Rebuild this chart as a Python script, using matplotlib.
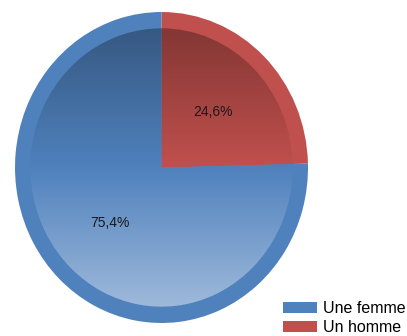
import numpy as np
import matplotlib
matplotlib.use("Agg")
import matplotlib.pyplot as plt
from matplotlib.colors import LinearSegmentedColormap, to_rgb
from matplotlib.patches import Patch

plt.rcParams['font.family'] = ['Liberation Sans', 'DejaVu Sans']

# data
labels = ["Une femme", "Un homme"]
values = [75.4, 24.6]
colors = ["#4F81BD", "#C0504D"]

fig = plt.figure(figsize=(4.07, 3.36), dpi=100)
ax = fig.add_axes([15 / 407, 13 / 336, 293 / 407, 311 / 336])

# outer rim (plain colour), clockwise from 12 o'clock, homme first
order = [1, 0]
vals = [values[i] for i in order]
cols = [colors[i] for i in order]
ax.pie(vals, colors=cols, startangle=90, counterclock=False, radius=1.0,
       wedgeprops=dict(linewidth=0))

# inner disk with a vertical gradient per slice
inner, _ = ax.pie(vals, colors=cols, startangle=90, counterclock=False, radius=0.895,
                  wedgeprops=dict(linewidth=0))
grad = np.linspace(0, 1, 256).reshape(-1, 1)
for w, c in zip(inner, cols):
    base = np.array(to_rgb(c))
    top = base * 0.65
    bottom = base + (1 - base) * 0.5
    cmap = LinearSegmentedColormap.from_list("g", [bottom, base, top])
    im = ax.imshow(grad, cmap=cmap, origin="lower", extent=[-1, 1, -1, 1],
                   aspect="auto", zorder=2, interpolation="bilinear")
    im.set_clip_path(w)

# percentage labels
theta = 90
for v in vals:
    mid = np.deg2rad(theta - v / 100 * 180)
    ax.text(0.5 * np.cos(mid), 0.5 * np.sin(mid), f"{v:.1f}%".replace(".", ","),
            ha="center", va="center", fontsize=10, color="#1a1a1a", zorder=3)
    theta -= v / 100 * 360

ax.set_xlim(-1, 1)
ax.set_ylim(-1, 1)
ax.set_aspect("auto")
ax.axis("off")

handles = [Patch(facecolor=c, edgecolor="none") for c in colors]
fig.legend(handles, labels, loc="upper left", bbox_to_anchor=(283 / 407, 1 - 301 / 336),
           frameon=False, fontsize=11.5, borderpad=0, borderaxespad=0,
           handlelength=2.1, handleheight=0.75, handletextpad=0.4, labelspacing=0.25)

fig.savefig("out.png", dpi=100)
